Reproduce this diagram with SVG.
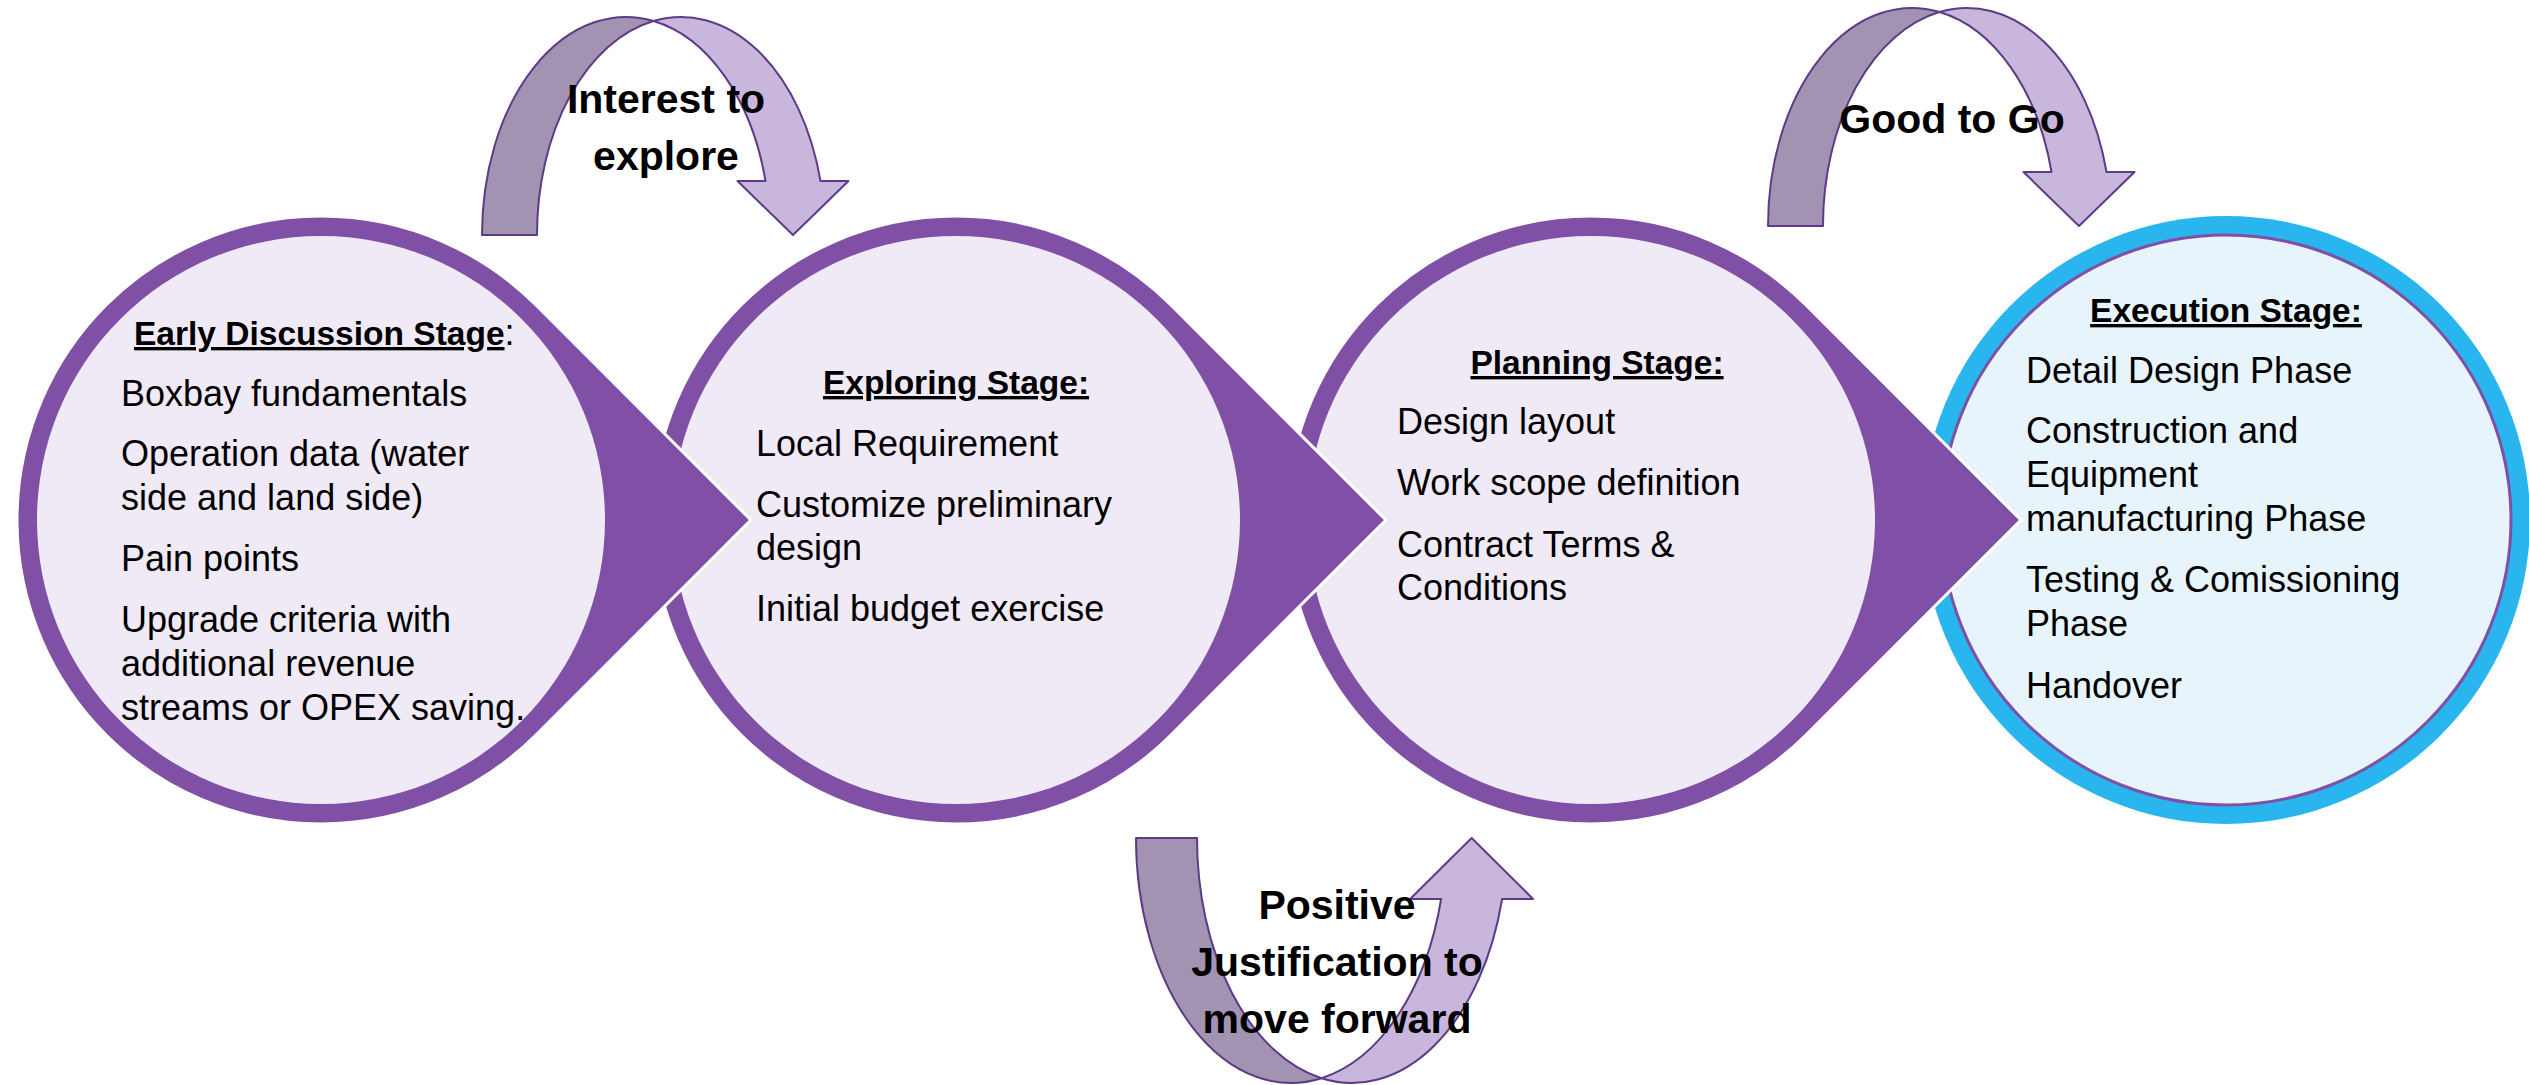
<svg xmlns="http://www.w3.org/2000/svg" width="2529" height="1085" viewBox="0 0 2529 1085">
<style>
.td{fill:#7F50A5;stroke:#ffffff;stroke-width:3}
.inner{fill:#F0EAF6}
.txt{font-family:"Liberation Sans",Arial,sans-serif;font-size:36px;fill:#000}
.head{font-weight:bold;font-size:33.5px;text-decoration:underline}
.lbl{font-family:"Liberation Sans",Arial,sans-serif;font-weight:bold;font-size:41px;fill:#000;text-anchor:middle}
.back{fill:#A393B3;stroke:#5E3B87;stroke-width:2;stroke-linejoin:round}
.front{fill:#C9B6DC;stroke:#5E3B87;stroke-width:2;stroke-linejoin:round}
</style>
<rect width="2529" height="1085" fill="#ffffff"/>

<g id="node-execution">
  <circle cx="2226" cy="520" r="304" fill="#29B6EE"/>
  <circle cx="2226" cy="520" r="285" fill="#E8F4FB" stroke="#7F50A5" stroke-width="3"/>
  <text class="txt head" x="2226" y="322" text-anchor="middle">Execution Stage:</text>
  <text class="txt" x="2026" y="383">Detail Design Phase</text>
  <text class="txt" x="2026" y="443">Construction and</text>
  <text class="txt" x="2026" y="487">Equipment</text>
  <text class="txt" x="2026" y="531">manufacturing Phase</text>
  <text class="txt" x="2026" y="592">Testing &amp; Comissioning</text>
  <text class="txt" x="2026" y="636">Phase</text>
  <text class="txt" x="2026" y="698">Handover</text>
</g>

<g id="node-planning">
  <path class="td" d="M1805.96,305.04 L2020.9,520 L1805.96,734.96 A304,304 0 1 1 1805.96,305.04 Z"/>
  <circle class="inner" cx="1591" cy="520" r="284"/>
  <text class="txt head" x="1597" y="374" text-anchor="middle">Planning Stage:</text>
  <text class="txt" x="1397" y="434">Design layout</text>
  <text class="txt" x="1397" y="495">Work scope definition</text>
  <text class="txt" x="1397" y="557">Contract Terms &amp;</text>
  <text class="txt" x="1397" y="600">Conditions</text>
</g>

<g id="node-exploring">
  <path class="td" d="M1170.96,305.04 L1385.9,520 L1170.96,734.96 A304,304 0 1 1 1170.96,305.04 Z"/>
  <circle class="inner" cx="956" cy="520" r="284"/>
  <text class="txt head" x="956" y="394" text-anchor="middle">Exploring Stage:</text>
  <text class="txt" x="756" y="456">Local Requirement</text>
  <text class="txt" x="756" y="517">Customize preliminary</text>
  <text class="txt" x="756" y="560">design</text>
  <text class="txt" x="756" y="621">Initial budget exercise</text>
</g>

<g id="node-early">
  <path class="td" d="M535.96,305.04 L750.9,520 L535.96,734.96 A304,304 0 1 1 535.96,305.04 Z"/>
  <circle class="inner" cx="321" cy="520" r="284"/>
  <text class="txt" x="134" y="345"><tspan class="head">Early Discussion Stage</tspan>:</text>
  <text class="txt" x="121" y="406">Boxbay fundamentals</text>
  <text class="txt" x="121" y="466">Operation data (water</text>
  <text class="txt" x="121" y="510">side and land side)</text>
  <text class="txt" x="121" y="571">Pain points</text>
  <text class="txt" x="121" y="632">Upgrade criteria with</text>
  <text class="txt" x="121" y="676">additional revenue</text>
  <text class="txt" x="121" y="720">streams or OPEX saving.</text>
</g>

<g id="connectors">
  <g id="arrow-interest">
    <path class="back" d="M482,235 A144,218 0 0 1 653.5,21 A144,218 0 0 0 537,235 Z"/>
    <path class="front" d="M653.5,21 A144,218 0 0 1 820.5,181 L848.5,181 L793,235 L737.5,181 L765.5,181 A144,218 0 0 0 653.5,21 Z"/>
    <text class="lbl" x="666" y="113">Interest to</text>
    <text class="lbl" x="666" y="170">explore</text>
  </g>
  <g id="arrow-good" transform="translate(1286,-9)">
    <path class="back" d="M482,235 A144,218 0 0 1 653.5,21 A144,218 0 0 0 537,235 Z"/>
    <path class="front" d="M653.5,21 A144,218 0 0 1 820.5,181 L848.5,181 L793,235 L737.5,181 L765.5,181 A144,218 0 0 0 653.5,21 Z"/>
  </g>
  <text class="lbl" x="1952" y="133">Good to Go</text>
  <g id="arrow-positive">
    <path class="back" d="M1136,838 A155,245 0 0 0 1321.5,1078.2 A155,245 0 0 1 1197,838 Z"/>
    <path class="front" d="M1321.5,1078.2 A155,245 0 0 0 1502.1,899 L1533.1,899 L1471.6,838 L1410.1,899 L1441.1,899 A155,245 0 0 1 1321.5,1078.2 Z"/>
    <text class="lbl" x="1337" y="919">Positive</text>
    <text class="lbl" x="1337" y="976">Justification to</text>
    <text class="lbl" x="1337" y="1033">move forward</text>
  </g>
</g>
</svg>
